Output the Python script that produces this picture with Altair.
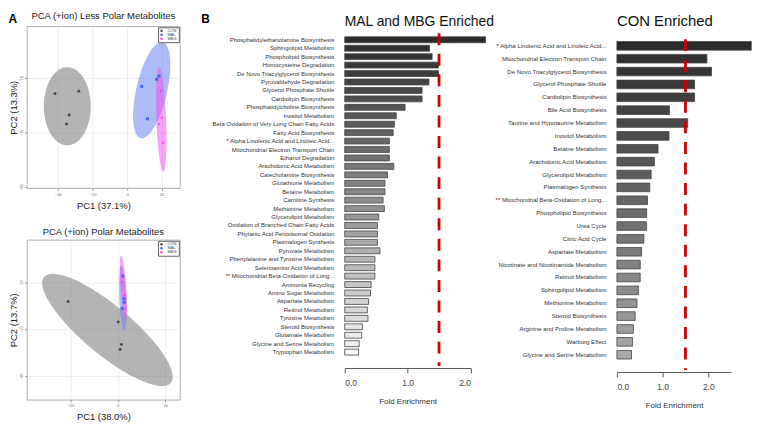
import altair as alt
import numpy as np
import pandas as pd

FONT = "Liberation Sans"

# ---------------- PCA data ----------------
groups = ["CON", "MAL", "MBG"]
point_colors = ["#4a4a4a", "#3f66f0", "#f03cf0"]
ellipse_colors = ["#777777", "#6a85f0", "#ee55ee"]
shapes = ["circle", "square", "triangle-up"]

pca1_group = ["CON"] * 4 + ["MAL"] * 4 + ["MBG"] * 4
pca1_pc1 = [-41.7, -27.9, -33.5, -35.0, 8.5, 17.2, 18.5, 11.8, 19.6, 20.2, 18.5, 20.9]
pca1_pc2 = [4.3, 5.1, -3.6, -6.9, 6.9, 9.5, 10.7, -5.0, 5.4, -4.4, -6.8, -13.6]
# ellipse: centre x, centre y, half-axis u (x, y), half-axis v (x, y)
pca1_ellipses = {
    "CON": [-34.6, -0.4, 0.0, 14.3, 13.6, 0.0],
    "MAL": [14.3, 5.5, 6.4, 17.6, 8.7, -1.3],
    "MBG": [19.8, -5.2, 1.2, -19.2, 2.8, -0.07],
}

pca2_group = ["CON"] * 4 + ["MAL"] * 4 + ["MBG"] * 4
pca2_pc1 = [-52.5, 0.3, 3.7, 2.3, 5.1, 6.4, 6.7, 4.4, 4.4, 7.1, 7.7, 5.4]
pca2_pc2 = [1.8, -6.9, -16.5, -18.6, 12.5, 2.9, 1.4, -1.2, 10.0, 4.5, -1.4, 12.1]
pca2_ellipses = {
    "CON": [-11.1, -10.3, 66.9, -22.4, 16.2, 8.0],
    "MAL": [5.1, 3.1, 1.5, -13.8, 3.6, 0.0],
    "MBG": [5.9, 7.3, 2.5, -13.8, 3.0, 0.0],
}

pca1_xticks = [-40, -20, 0, 20]
pca1_yticks = [-30, -20, -10, 0, 10, 20]
pca2_xticks = [-50, 0, 50]
pca2_yticks = [-30, -20, -10, 0, 10, 20]

# ---------------- enrichment data ----------------
mid_labels = [
    "Phosphatidylethanolamine Biosynthesis", "Sphingolipid Metabolism", "Phospholipid Biosynthesis",
    "Homocysteine Degradation", "De Novo Triacylglycerol Biosynthesis", "Pyruvaldehyde Degradation",
    "Glycerol Phosphate Shuttle", "Cardiolipin Biosynthesis", "Phosphatidylcholine Biosynthesis",
    "Inositol Metabolism", "Beta Oxidation of Very Long Chain Fatty Acids", "Fatty Acid Biosynthesis",
    "* Alpha Linolenic Acid and Linoleic Acid...", "Mitochondrial Electron Transport Chain",
    "Ethanol Degradation", "Arachidonic Acid Metabolism", "Catecholamine Biosynthesis",
    "Glutathione Metabolism", "Betaine Metabolism", "Carnitine Synthesis", "Methionine Metabolism",
    "Glycerolipid Metabolism", "Oxidation of Branched Chain Fatty Acids",
    "Phytanic Acid Peroxisomal Oxidation", "Plasmalogen Synthesis", "Pyruvate Metabolism",
    "Phenylalanine and Tyrosine Metabolism", "Selenoamino Acid Metabolism",
    "** Mitochondrial Beta-Oxidation of Long...", "Ammonia Recycling", "Amino Sugar Metabolism",
    "Aspartate Metabolism", "Retinol Metabolism", "Tyrosine Metabolism", "Steroid Biosynthesis",
    "Glutamate Metabolism", "Glycine and Serine Metabolism", "Tryptophan Metabolism",
]
mid_values = [
    2.24, 1.35, 1.39, 1.49, 1.49, 1.34, 1.23, 1.23, 0.96, 0.82, 0.79, 0.77, 0.71, 0.71, 0.71,
    0.78, 0.68, 0.64, 0.64, 0.61, 0.63, 0.54, 0.52, 0.52, 0.52, 0.56, 0.48, 0.48, 0.48, 0.42,
    0.41, 0.38, 0.36, 0.37, 0.28, 0.27, 0.23, 0.22,
]

right_labels = [
    "* Alpha Linolenic Acid and Linoleic Acid...", "Mitochondrial Electron Transport Chain",
    "De Novo Triacylglycerol Biosynthesis", "Glycerol Phosphate Shuttle", "Cardiolipin Biosynthesis",
    "Bile Acid Biosynthesis", "Taurine and Hypotaurine Metabolism", "Inositol Metabolism",
    "Betaine Metabolism", "Arachidonic Acid Metabolism", "Glycerolipid Metabolism",
    "Plasmalogen Synthesis", "** Mitochondrial Beta-Oxidation of Long...", "Phospholipid Biosynthesis",
    "Urea Cycle", "Citric Acid Cycle", "Aspartate Metabolism", "Nicotinate and Nicotinamide Metabolism",
    "Retinol Metabolism", "Sphingolipid Metabolism", "Methionine Metabolism", "Steroid Biosynthesis",
    "Arginine and Proline Metabolism", "Warburg Effect", "Glycine and Serine Metabolism",
]
right_values = [
    2.94, 1.97, 2.07, 1.70, 1.70, 1.15, 1.55, 1.14, 0.90, 0.82, 0.75, 0.72, 0.67, 0.65, 0.65,
    0.59, 0.54, 0.51, 0.51, 0.47, 0.44, 0.40, 0.36, 0.34, 0.32,
]
threshold = 1.5
mid_ticks = [0, 0.5, 1.0, 1.5, 2.0]
right_ticks = [0, 0.5, 1.0, 1.5, 2.0, 2.5]


# ---------------- helpers ----------------
def ellipse_frame(params):
    t = np.linspace(0, 2 * np.pi, 91)
    rows = []
    for g, (cx, cy, ux, uy, vx, vy) in params.items():
        for i, tt in enumerate(t):
            rows.append({"group": g, "i": i,
                         "x": cx + ux * np.cos(tt) + vx * np.sin(tt),
                         "y": cy + uy * np.cos(tt) + vy * np.sin(tt)})
    return pd.DataFrame(rows)


def pca_panel(title, xlab, ylab, grp, pc1, pc2, ell, xdom, ydom, xticks, yticks, w, h,
              title_offset, extra=None):
    pts = pd.DataFrame({"group": grp, "x": pc1, "y": pc2})
    xs = alt.Scale(domain=xdom, nice=False, zero=False)
    ys = alt.Scale(domain=ydom, nice=False, zero=False)
    xax = alt.Axis(values=xticks, title=xlab, titleFontSize=9.5, titleFontWeight="normal",
                   titleColor="#222", titlePadding=4, labelFontSize=4, labelColor="#666",
                   labelPadding=2, tickSize=2, tickColor="#888", domain=False,
                   gridColor="#e3e3e3", gridWidth=0.6)
    yax = alt.Axis(values=yticks, title=ylab, titleFontSize=9.5, titleFontWeight="normal",
                   titleColor="#222", titlePadding=1, labelFontSize=4, labelColor="#666",
                   labelPadding=1, labelAngle=-90, tickSize=2, tickColor="#888", domain=False,
                   gridColor="#e3e3e3", gridWidth=0.6)
    ellipses = alt.Chart(ellipse_frame(ell)).mark_line(strokeWidth=0, fillOpacity=0.55).encode(
        x=alt.X("x:Q", scale=xs, axis=xax),
        y=alt.Y("y:Q", scale=ys, axis=yax),
        fill=alt.Fill("group:N", scale=alt.Scale(domain=groups, range=ellipse_colors), legend=None),
        detail="group:N",
        order="i:Q",
    )
    points = alt.Chart(pts).mark_point(filled=True, size=9, opacity=1).encode(
        x=alt.X("x:Q", scale=xs),
        y=alt.Y("y:Q", scale=ys),
        color=alt.Color("group:N", scale=alt.Scale(domain=groups, range=point_colors),
                        legend=alt.Legend(title=None, orient="top-right", offset=1, labelFontSize=4,
                                          symbolSize=6, rowPadding=0, padding=1.5,
                                          strokeColor="#666", fillColor="white", labelColor="#444",
                                          symbolStrokeWidth=0)),
        shape=alt.Shape("group:N", scale=alt.Scale(domain=groups, range=shapes)),
    )
    layers = [ellipses, points]
    if extra is not None:
        layers += extra
    return alt.layer(*layers).resolve_scale(color="independent").properties(
        width=w, height=h,
        title=alt.TitleParams(title, fontSize=9.5, fontWeight="normal", color="#222",
                              anchor="middle", frame="group", offset=title_offset),
        view=alt.ViewBackground(stroke="#999", strokeWidth=0.8),
    )


def panel_letter(letter, x, y):
    return alt.Chart(pd.DataFrame({"t": [letter]})).mark_text(
        fontSize=12, fontWeight="bold", align="left", baseline="top", color="black"
    ).encode(text="t:N", x=alt.value(x), y=alt.value(y))


def bar_panel(title, title_size, labels, values, ticks, xmax, w, h, pin, pout, palign,
              label_size, axis_offset, rule_top, rule_bottom):
    df = pd.DataFrame({"pathway": labels, "fe": values, "rank": list(range(len(labels)))})
    xs = alt.Scale(domain=[0, xmax], nice=False, zero=True)
    bars = alt.Chart(df).mark_bar(stroke="#444", strokeWidth=0.8).encode(
        y=alt.Y("pathway:N", sort=labels,
                scale=alt.Scale(paddingInner=pin, paddingOuter=pout, align=palign),
                axis=alt.Axis(title=None, domain=False, ticks=False, labelFontSize=label_size,
                              labelPadding=11, labelLimit=300, labelColor="#333")),
        x=alt.X("fe:Q", scale=xs,
                axis=alt.Axis(values=ticks, format=".1f", title="Fold Enrichment", titleFontSize=8,
                              titleFontWeight="normal", titleColor="#333", titlePadding=11,
                              labelFontSize=8.5, labelColor="#444", labelPadding=5.5, tickSize=5,
                              tickColor="#555", domainColor="#555", grid=False,
                              offset=axis_offset)),
        color=alt.Color("rank:Q", scale=alt.Scale(range=["#2b2b2b", "#f7f7f7"]), legend=None),
    )
    rule = alt.Chart(pd.DataFrame({"t": [threshold]})).mark_rule(
        color="#cc0000", strokeWidth=2.8, strokeDash=[12, 8.7]
    ).encode(x=alt.X("t:Q", scale=xs), y=alt.value(rule_top), y2=alt.value(rule_bottom))
    return alt.layer(bars, rule).properties(
        width=w, height=h,
        title=alt.TitleParams(title, fontSize=title_size, fontWeight="normal", color="#111",
                              anchor="start", frame="group", offset=-2.5),
    )


PCA_W = 154
pca1 = pca_panel("PCA (+ion) Less Polar Metabolites", "PC1 (37.1%)", "PC2 (13.3%)",
                 pca1_group, pca1_pc1, pca1_pc2, pca1_ellipses, [-58, 30.6], [-30.4, 28.9],
                 pca1_xticks, pca1_yticks, PCA_W, 163, -6.75,
                 extra=[panel_letter("A", -18.5, -12), panel_letter("B", 175.5, -12)])
pca2 = pca_panel("PCA (+ion) Polar Metabolites", "PC1 (38.0%)", "PC2 (13.7%)",
                 pca2_group, pca2_pc1, pca2_pc2, pca2_ellipses, [-96, 65.3], [-39.9, 27.9],
                 pca2_xticks, pca2_yticks, PCA_W, 161, 3)
col1 = alt.vconcat(pca1, pca2, spacing=17)

mid = bar_panel("MAL and MBG Enriched", 14, mid_labels, mid_values, mid_ticks, 2.0,
                126.6, 336, 0.3, 0.92, 0.68, 6.0, 8, 7, 342)
right = bar_panel("CON Enriched", 15, right_labels, right_values, right_ticks, 2.5,
                  115, 340, 0.33, 0.785, 0.754, 6.1, 8, 13, 346)

chart = alt.hconcat(col1, mid, right, spacing=0).properties(padding=0).configure(
    font=FONT, background="white"
).configure_view(stroke=None)

chart.save("out.html", embed_options={"renderer": "svg", "actions": False})
